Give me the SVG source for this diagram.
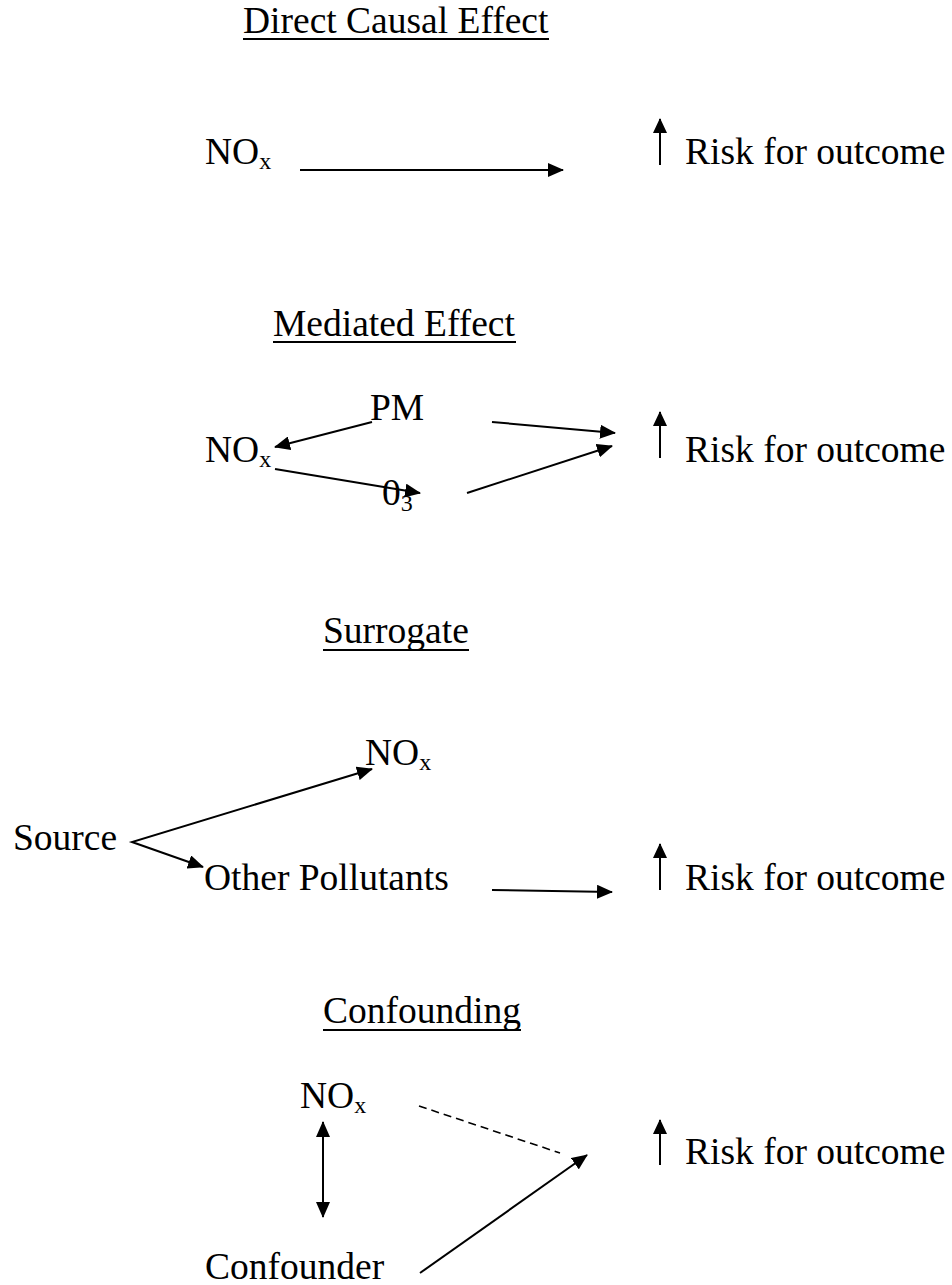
<svg xmlns="http://www.w3.org/2000/svg" width="952" height="1285" viewBox="0 0 952 1285">
<style>
text{font-family:"Liberation Serif","Times New Roman",serif;font-size:37.5px;fill:#000}
.sub{font-size:24px}
.ul{stroke:#000;stroke-width:2}
.c{stroke:#000;stroke-width:2;fill:none}
.d{stroke:#000;stroke-width:1.6;fill:none;stroke-dasharray:8 5}
.a{marker-end:url(#ah)}
.u{stroke:#000;stroke-width:2;marker-end:url(#uh)}
</style>
<defs>
<marker id="ah" markerUnits="userSpaceOnUse" markerWidth="16" markerHeight="14" refX="15" refY="7" orient="auto-start-reverse"><path d="M0,0 L16,7 L0,14 z" fill="#000"/></marker>
<marker id="uh" markerUnits="userSpaceOnUse" markerWidth="15" markerHeight="14" refX="14" refY="7" orient="auto"><path d="M0,0 L15,7 L0,14 z" fill="#000"/></marker>
</defs>
<rect width="952" height="1285" fill="#fff"/>

<g id="title-direct"><text x="243" y="33">Direct Causal Effect</text><line class="ul" x1="243" y1="39" x2="549" y2="39"/></g>
<g id="nox-1"><text x="205" y="164">NO<tspan class="sub" dy="5">x</tspan></text></g>
<g id="risk-1"><line class="u" x1="660" y1="165" x2="660" y2="119"/><text x="685" y="164">Risk for outcome</text></g>

<g id="title-mediated"><text x="273" y="336">Mediated Effect</text><line class="ul" x1="273" y1="342" x2="516" y2="342"/></g>
<g id="pm"><text x="370" y="420">PM</text></g>
<g id="nox-2"><text x="205" y="462">NO<tspan class="sub" dy="5">x</tspan></text></g>
<g id="o3"><text x="382" y="505">0<tspan class="sub" dy="6">3</tspan></text></g>
<g id="risk-2"><line class="u" x1="660" y1="458" x2="660" y2="412"/><text x="685" y="462">Risk for outcome</text></g>

<g id="title-surrogate"><text x="323" y="643">Surrogate</text><line class="ul" x1="323" y1="650" x2="469" y2="650"/></g>
<g id="nox-3"><text x="365" y="765">NO<tspan class="sub" dy="5">x</tspan></text></g>
<g id="source"><text x="13" y="850">Source</text></g>
<g id="other"><text x="204" y="890">Other Pollutants</text></g>
<g id="risk-3"><line class="u" x1="660" y1="890" x2="660" y2="844"/><text x="685" y="890">Risk for outcome</text></g>

<g id="title-confounding"><text x="323" y="1023">Confounding</text><line class="ul" x1="323" y1="1030" x2="521" y2="1030"/></g>
<g id="nox-4"><text x="300" y="1108">NO<tspan class="sub" dy="5">x</tspan></text></g>
<g id="confounder"><text x="205" y="1279">Confounder</text></g>
<g id="risk-4"><line class="u" x1="660" y1="1165" x2="660" y2="1120"/><text x="685" y="1164">Risk for outcome</text></g>

<g id="connectors">
<line class="c a" x1="300" y1="170" x2="563" y2="170"/>
<line class="c a" x1="372" y1="422" x2="275" y2="447"/>
<line class="c a" x1="275" y1="469" x2="420" y2="493"/>
<line class="c a" x1="492" y1="422" x2="615" y2="433"/>
<line class="c a" x1="467" y1="493" x2="612" y2="446"/>
<polyline class="c a" points="372,769 132,842 203,867" style="marker-start:url(#ah)"/>
<line class="c a" x1="492" y1="890" x2="612" y2="892"/>
<line class="c a" x1="323" y1="1122" x2="323" y2="1217" style="marker-start:url(#ah)"/>
<line class="d" x1="419" y1="1106" x2="560" y2="1153"/>
<line class="c a" x1="420" y1="1273" x2="587" y2="1155"/>
</g>
</svg>
